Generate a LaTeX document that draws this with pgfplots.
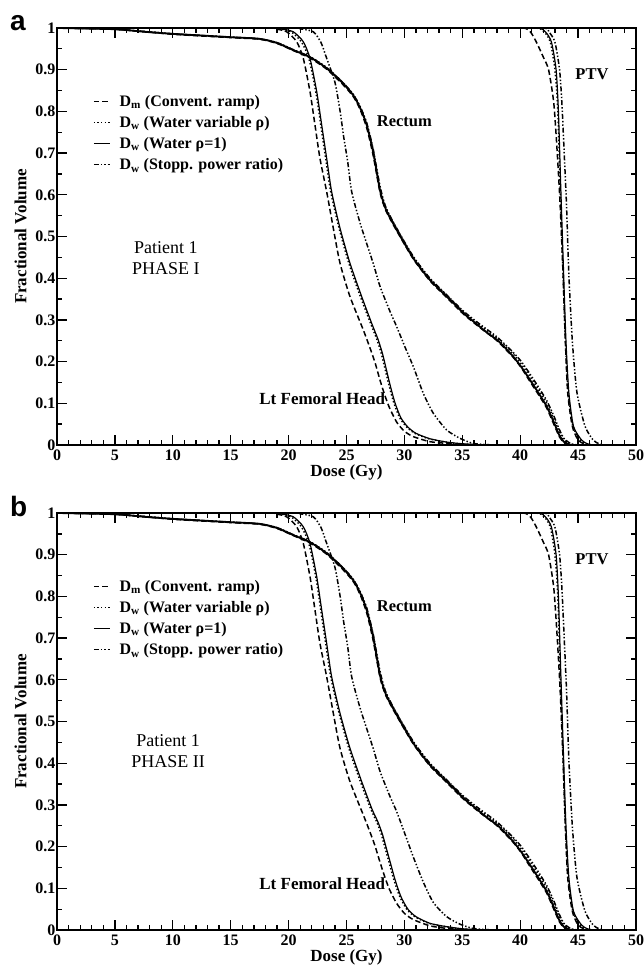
\documentclass[border=0pt]{standalone}
\usepackage{fontspec}
\setmainfont{Liberation Serif}
\newfontfamily\arialfont{Liberation Sans}
\usepackage{pgfplots}
\usepackage{pgfplotstable}
\pgfplotsset{compat=1.18}

% ---- Rectum (same in both phases)
\pgfplotstableread{
x y
0 1.0
5 0.997
7.5 0.991
10 0.986
12.5 0.982
15 0.978
17.5 0.974
19 0.964
20.4 0.947
21.85 0.930
23.3 0.903
24.7 0.867
25.6 0.838
26.2 0.807
26.75 0.767
27.3 0.703
27.9 0.61
28.4 0.565
28.8 0.543
29.33 0.516
30.05 0.481
30.77 0.448
31.5 0.42
32.2 0.396
32.9 0.376
33.65 0.356
34.4 0.336
35.1 0.316
35.8 0.300
36.5 0.284
37.2 0.268
38.0 0.252
38.7 0.233
39.4 0.212
40.1 0.187
40.85 0.156
41.6 0.124
42.3 0.092
42.9 0.055
43.4 0.022
43.8 0.007
44.2 0.001
44.6 0
}\rectw
\pgfplotstableread{
x y
0 1.0
5 0.997
10 0.985
15 0.977
17.5 0.973
19 0.963
20.4 0.946
21.85 0.928
23.3 0.901
24.7 0.864
25.6 0.835
26.2 0.803
26.75 0.760
27.3 0.695
27.9 0.605
28.4 0.562
29.33 0.514
30.77 0.446
32.2 0.394
33.65 0.354
35.1 0.314
36.5 0.282
38.0 0.250
39.4 0.210
40.1 0.185
40.85 0.152
41.6 0.120
42.3 0.088
42.9 0.050
43.4 0.019
43.8 0.005
44.2 0
}\rectm
\pgfplotstableread{
x y
0 1.0
5 0.997
10 0.986
15 0.978
17.5 0.974
19 0.965
20.4 0.948
21.85 0.931
23.3 0.905
24.7 0.869
25.6 0.840
26.2 0.810
26.75 0.770
27.3 0.707
27.9 0.615
28.4 0.568
29.33 0.519
30.77 0.451
32.2 0.399
33.65 0.359
35.1 0.319
36.5 0.287
38.0 0.256
39.4 0.218
40.1 0.194
40.85 0.164
41.6 0.132
42.3 0.100
42.9 0.063
43.4 0.030
43.8 0.011
44.3 0.002
44.8 0
}\rectv
\pgfplotstableread{
x y
0 1.0
5 0.997
10 0.986
15 0.978
17.5 0.974
19 0.965
20.4 0.948
21.85 0.931
23.3 0.904
24.7 0.869
25.6 0.840
26.2 0.810
26.75 0.772
27.3 0.710
27.9 0.620
28.4 0.570
29.33 0.520
30.77 0.452
32.2 0.400
33.65 0.360
35.1 0.321
36.5 0.290
38.0 0.259
39.4 0.222
40.1 0.200
40.85 0.170
41.6 0.138
42.3 0.106
42.9 0.070
43.4 0.036
43.8 0.015
44.4 0.003
45.0 0
}\rects

% ---- PTV (same in both phases)
\pgfplotstableread{
x y
38 1.0
40.3 1.0
40.9 0.99
41.4 0.966
42.0 0.93
42.45 0.90
42.9 0.82
43.2 0.70
43.45 0.575
43.7 0.41
43.9 0.25
44.1 0.126
44.5 0.045
45.0 0.012
45.5 0.003
46 0
}\ptvm
\pgfplotstableread{
x y
38 1.0
41.5 1.0
42.2 0.99
42.7 0.966
43.1 0.90
43.3 0.80
43.5 0.62
43.75 0.41
43.95 0.25
44.2 0.126
44.6 0.045
45.3 0.012
45.8 0.003
46.3 0
}\ptvw
\pgfplotstableread{
x y
38 1.0
41.4 1.0
42.1 0.99
42.6 0.966
43.0 0.90
43.25 0.80
43.45 0.62
43.7 0.41
43.9 0.25
44.15 0.126
44.55 0.045
45.2 0.012
45.7 0.003
46.2 0
}\ptvv
\pgfplotstableread{
x y
38 1.0
42.0 1.0
42.5 0.99
43.0 0.966
43.4 0.90
43.6 0.82
43.8 0.70
44.0 0.575
44.2 0.41
44.5 0.25
44.9 0.126
45.6 0.045
46.3 0.012
46.8 0.003
47.2 0
}\ptvs

% ---- Lt femoral head, phase I
\pgfplotstableread{
x y
0 1.0
17.5 1.0
18.8 0.998
19.83 0.991
20.7 0.967
21.27 0.927
21.85 0.847
22.28 0.767
22.71 0.687
23.29 0.607
23.86 0.52
24.44 0.436
25.3 0.356
26.45 0.276
27.0 0.235
27.46 0.198
27.9 0.155
28.3 0.12
28.7 0.09
29.33 0.055
30.0 0.033
30.77 0.02
32.2 0.008
33.6 0.004
35 0.001
36 0
}\femAm
\pgfplotstableread{
x y
0 1.0
18 1.0
19.3 0.998
20.4 0.991
21.27 0.967
21.85 0.927
22.43 0.847
22.86 0.767
23.29 0.687
23.72 0.607
24.44 0.52
25.3 0.436
26.31 0.356
27.2 0.29
27.7 0.255
28.1 0.22
28.45 0.18
28.8 0.14
29.2 0.10
29.7 0.065
30.3 0.043
31.0 0.028
32.2 0.015
33.65 0.007
35 0.003
37 0
}\femAw
\pgfplotstableread{
x y
0 1.0
17.8 1.0
19.1 0.998
20.2 0.991
21.1 0.967
21.75 0.927
22.35 0.847
22.78 0.767
23.2 0.687
23.64 0.607
24.36 0.52
25.2 0.436
26.2 0.356
27.1 0.29
27.6 0.255
28.0 0.22
28.35 0.18
28.7 0.14
29.1 0.10
29.6 0.065
30.2 0.043
30.9 0.028
32.1 0.015
33.55 0.007
35 0.002
36.8 0
}\femAv
\pgfplotstableread{
x y
0 1.0
20.0 1.0
21.0 0.998
22.13 0.991
22.8 0.965
23.29 0.927
24.0 0.87
24.45 0.80
24.75 0.74
25.1 0.68
25.45 0.607
26.2 0.53
27.3 0.436
27.9 0.38
28.76 0.32
29.33 0.284
30.05 0.235
30.77 0.188
31.63 0.124
32.5 0.076
33.65 0.036
34.8 0.016
35.9 0.004
37 0.001
38 0
}\femAs

% ---- Lt femoral head, phase II
\pgfplotstableread{
x y
0 1.0
17.5 1.0
18.8 0.998
19.83 0.991
20.7 0.967
21.27 0.927
21.85 0.847
22.28 0.767
22.71 0.687
23.29 0.607
23.86 0.52
24.44 0.436
25.3 0.356
26.45 0.276
27.0 0.237
27.46 0.202
27.9 0.162
28.3 0.128
28.7 0.098
29.33 0.064
30.0 0.04
30.77 0.025
32.2 0.01
33.6 0.004
35 0.001
36 0
}\femBm
\pgfplotstableread{
x y
0 1.0
18 1.0
19.3 0.998
20.4 0.991
21.27 0.967
21.85 0.927
22.43 0.847
22.86 0.767
23.29 0.687
23.72 0.607
24.44 0.52
25.3 0.436
26.31 0.356
27.2 0.29
27.7 0.26
28.1 0.23
28.45 0.195
28.8 0.16
29.2 0.12
29.7 0.08
30.3 0.05
31.0 0.032
32.2 0.016
33.65 0.008
35 0.003
37 0
}\femBw
\pgfplotstableread{
x y
0 1.0
17.8 1.0
19.1 0.998
20.2 0.991
21.1 0.967
21.75 0.927
22.35 0.847
22.78 0.767
23.2 0.687
23.64 0.607
24.36 0.52
25.2 0.436
26.2 0.356
27.1 0.29
27.6 0.26
28.0 0.23
28.35 0.195
28.7 0.16
29.1 0.12
29.6 0.08
30.2 0.05
30.9 0.032
32.1 0.016
33.55 0.008
35 0.002
36.8 0
}\femBv
\pgfplotstableread{
x y
0 1.0
20.0 1.0
21.0 0.998
22.13 0.991
22.8 0.965
23.29 0.927
24.0 0.87
24.45 0.80
24.75 0.74
25.1 0.68
25.45 0.607
26.2 0.53
27.3 0.436
27.9 0.38
28.76 0.32
29.33 0.284
30.05 0.23
30.77 0.175
31.63 0.115
32.5 0.066
33.65 0.032
34.8 0.014
35.9 0.004
37 0.001
38 0
}\femBs

\pgfplotsset{
  dm/.style={black, line width=1.5pt, dash pattern=on 5.5pt off 3pt},
  dwv/.style={black, line width=1.5pt, dash pattern=on 1.4pt off 2.2pt},
  dwo/.style={black, line width=1.2pt},
  dws/.style={black, line width=1.5pt, dash pattern=on 5pt off 2pt on 1.4pt off 2pt on 1.4pt off 2pt},
  dvh/.style={
    width=579pt, height=417pt, scale only axis,
    xmin=0, xmax=50, ymin=0, ymax=1,
    xtick={0,5,10,15,20,25,30,35,40,45,50},
    ytick={0,0.1,0.2,0.3,0.4,0.5,0.6,0.7,0.8,0.9,1},
    minor x tick num=4, minor y tick num=1,
    major tick length=10pt, minor tick length=5pt,
    tick align=inside, tick pos=both,
    axis line style={line width=1.5pt},
    every tick/.style={black, line width=1.3pt},
    /pgf/number format/assume math mode=true,
    ticklabel style={font=\fontsize{16}{16}\selectfont\bfseries},
    yticklabel style={/pgf/number format/fixed, xshift=2pt},
    xticklabel style={yshift=-1pt},
    xlabel={Dose (Gy)}, ylabel={Fractional Volume},
    label style={font=\fontsize{17}{17}\selectfont\bfseries},
    xlabel style={yshift=2pt},
    ylabel style={yshift=2pt},
    legend style={draw=none, fill=none, inner sep=0pt, at={(0.062,0.842)}, anchor=north west,
      font=\fontsize{16}{16}\selectfont\bfseries, row sep=6.5pt, column sep=8pt,
      nodes={inner sep=1pt}},
    legend cell align=left,
    legend image code/.code={\draw[#1] (0pt,0pt) -- (16pt,0pt);},
    every axis plot/.append style={smooth, tension=0.4},
  },
}

\begin{document}
\begin{tikzpicture}
\path[use as bounding box] (-57pt,-521pt) rectangle (586pt,445pt);

% ---------------- panel a
\begin{axis}[dvh, name=pa, at={(0pt,0pt)}, anchor=south west]
\addplot[dm] table {\femAm};
\addplot[dwv] table {\femAv};
\addplot[dwo] table {\femAw};
\addplot[dws] table {\femAs};
\addplot[dm] table {\rectm};
\addplot[dwv] table {\rectv};
\addplot[dwo, line width=1.8pt] table {\rectw};
\addplot[dws] table {\rects};
\addplot[dm] table {\ptvm};
\addplot[dwv] table {\ptvv};
\addplot[dwo] table {\ptvw};
\addplot[dws] table {\ptvs};
\legend{D\textsubscript{m} (Convent. ramp), D\textsubscript{w} (Water variable ρ), D\textsubscript{w} (Water ρ=1), D\textsubscript{w} (Stopp. power ratio)}
\node[font=\fontsize{18}{21}\selectfont, align=center] at (axis cs:9.4,0.448) {Patient 1\\PHASE I};
\node[font=\fontsize{16.5}{16.5}\selectfont\bfseries] at (axis cs:30.0,0.777) {Rectum};
\node[font=\fontsize{16.5}{16.5}\selectfont\bfseries] at (axis cs:46.2,0.89) {PTV};
\node[font=\fontsize{17}{17}\selectfont\bfseries] at (axis cs:22.9,0.11) {Lt Femoral Head};
\end{axis}
\node[font=\arialfont\bfseries\fontsize{28}{28}\selectfont, anchor=base west, inner sep=0pt]
  at ([xshift=-47pt,yshift=-3pt]pa.north west) {a};

% ---------------- panel b
\begin{axis}[dvh, name=pb, at={(0pt,-485pt)}, anchor=south west]
\addplot[dm] table {\femBm};
\addplot[dwv] table {\femBv};
\addplot[dwo] table {\femBw};
\addplot[dws] table {\femBs};
\addplot[dm] table {\rectm};
\addplot[dwv] table {\rectv};
\addplot[dwo, line width=1.8pt] table {\rectw};
\addplot[dws] table {\rects};
\addplot[dm] table {\ptvm};
\addplot[dwv] table {\ptvv};
\addplot[dwo] table {\ptvw};
\addplot[dws] table {\ptvs};
\legend{D\textsubscript{m} (Convent. ramp), D\textsubscript{w} (Water variable ρ), D\textsubscript{w} (Water ρ=1), D\textsubscript{w} (Stopp. power ratio)}
\node[font=\fontsize{18}{21}\selectfont, align=center] at (axis cs:9.6,0.43) {Patient 1\\PHASE II};
\node[font=\fontsize{16.5}{16.5}\selectfont\bfseries] at (axis cs:30.0,0.777) {Rectum};
\node[font=\fontsize{16.5}{16.5}\selectfont\bfseries] at (axis cs:46.2,0.89) {PTV};
\node[font=\fontsize{17}{17}\selectfont\bfseries] at (axis cs:22.9,0.11) {Lt Femoral Head};
\end{axis}
\node[font=\arialfont\bfseries\fontsize{28}{28}\selectfont, anchor=base west, inner sep=0pt]
  at ([xshift=-47pt,yshift=-3pt]pb.north west) {b};
\end{tikzpicture}
\end{document}
